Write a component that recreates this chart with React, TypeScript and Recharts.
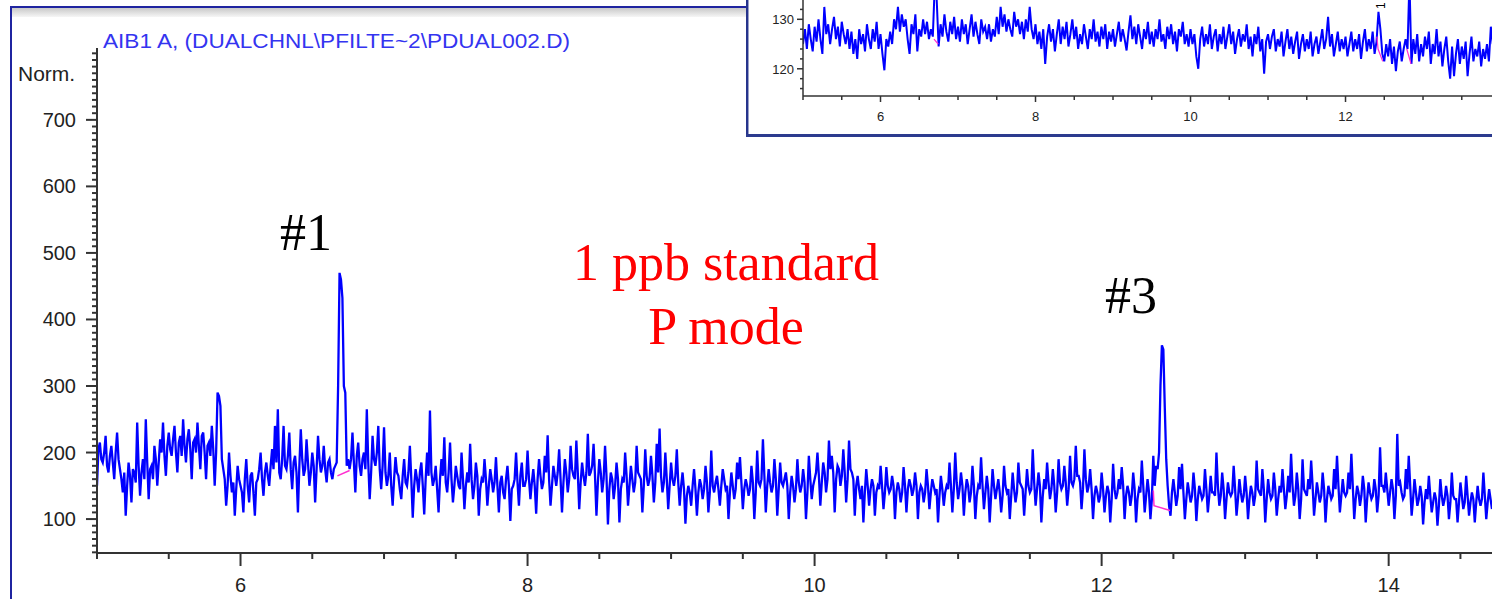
import React from 'react';
import { LineChart, Line, XAxis, YAxis } from 'recharts';

// main trace (Norm.), one array per minute, sampled every 0.01 min
const main05 = [
  150, 205, 215, 190, 185, 200, 225, 180, 170, 195, 210, 185, 160, 200, 230, 190, 175, 160, 140, 170,
  105, 150, 185, 165, 125, 175, 170, 155, 245, 180, 135, 170, 190, 160, 250, 185, 130, 175, 180, 160,
  210, 190, 150, 185, 220, 200, 245, 195, 165, 210, 230, 205, 195, 220, 240, 200, 170, 215, 225, 195,
  250, 210, 185, 220, 235, 205, 160, 215, 220, 200, 245, 210, 175, 225, 230, 200, 160, 210, 215, 195,
  240, 205, 150, 200, 290, 285, 270, 190, 175, 160, 120, 150, 200, 165, 140, 155, 105, 145, 180, 160,
];
const main06 = [
  150, 140, 110, 160, 190, 150, 125, 165, 170, 140, 105, 155, 160, 175, 200, 160, 135, 170, 185, 165,
  150, 180, 205, 175, 240, 185, 265, 170, 160, 190, 240, 180, 175, 195, 230, 175, 145, 185, 195, 170,
  110, 180, 235, 190, 165, 175, 220, 185, 150, 170, 200, 180, 125, 175, 225, 190, 170, 180, 210, 175,
  155, 185, 190, 170, 160, 175, 180, 185, 300, 470, 460, 432, 300, 290, 180, 190, 175, 190, 230, 185,
  140, 195, 215, 180, 165, 190, 200, 175, 265, 185, 130, 170, 225, 190, 180, 200, 240, 175, 145, 180,
];
const main07 = [
  238, 170, 150, 165, 200, 150, 120, 160, 193, 170, 165, 145, 130, 165, 190, 155, 150, 170, 210, 160,
  102, 150, 175, 160, 140, 170, 185, 150, 107, 160, 200, 165, 263, 170, 150, 160, 180, 145, 110, 160,
  190, 165, 223, 155, 140, 170, 215, 160, 125, 150, 180, 165, 150, 145, 200, 160, 115, 150, 170, 155,
  213, 160, 130, 150, 185, 165, 105, 145, 160, 155, 190, 160, 120, 150, 175, 160, 140, 155, 193, 150,
  110, 155, 165, 140, 130, 160, 180, 150, 97, 145, 150, 160, 200, 155, 120, 165, 185, 150, 150, 160,
];
const main08 = [
  203, 160, 130, 155, 175, 150, 108, 160, 190, 165, 145, 155, 195, 170, 226, 160, 120, 150, 180, 165,
  150, 170, 205, 160, 110, 155, 190, 170, 140, 160, 210, 175, 165, 160, 218, 170, 115, 155, 185, 165,
  150, 170, 228, 165, 170, 180, 213, 165, 105, 155, 190, 170, 140, 160, 210, 165, 92, 145, 170, 160,
  130, 150, 185, 160, 95, 145, 160, 155, 200, 165, 120, 150, 180, 160, 140, 155, 210, 170, 165, 160,
  110, 150, 205, 165, 150, 160, 195, 165, 125, 155, 213, 170, 236, 165, 140, 155, 200, 160, 115, 150,
];
const main09 = [
  185, 160, 150, 165, 205, 155, 120, 150, 170, 145, 93, 135, 150, 140, 120, 150, 175, 145, 105, 140,
  160, 150, 130, 145, 180, 155, 110, 140, 203, 150, 140, 155, 165, 145, 120, 150, 175, 160, 145, 150,
  100, 140, 170, 150, 130, 145, 185, 160, 193, 155, 115, 145, 160, 150, 135, 145, 180, 155, 100, 140,
  203, 155, 150, 160, 220, 165, 110, 150, 175, 155, 140, 150, 190, 160, 105, 145, 185, 155, 150, 160,
  170, 150, 100, 140, 165, 150, 125, 145, 190, 155, 140, 150, 175, 155, 100, 140, 195, 160, 130, 150,
];
const main10 = [
  160, 170, 200, 165, 120, 155, 185, 170, 140, 160, 218, 175, 195, 170, 110, 160, 180, 175, 150, 165,
  205, 170, 125, 160, 218, 175, 170, 160, 105, 150, 165, 145, 130, 150, 95, 140, 175, 150, 120, 145,
  160, 150, 105, 140, 150, 145, 180, 150, 115, 140, 178, 150, 140, 145, 165, 150, 100, 140, 155, 145,
  125, 140, 178, 150, 110, 145, 160, 150, 135, 145, 170, 150, 100, 140, 150, 145, 125, 140, 175, 150,
  115, 140, 160, 150, 140, 145, 95, 135, 165, 145, 120, 140, 150, 145, 185, 150, 110, 145, 200, 155,
];
const main11 = [
  130, 145, 170, 150, 105, 140, 160, 150, 125, 140, 180, 150, 100, 135, 150, 145, 193, 150, 115, 140,
  165, 145, 95, 135, 175, 150, 130, 145, 160, 140, 110, 135, 180, 150, 140, 145, 100, 135, 170, 145,
  125, 140, 185, 155, 150, 145, 105, 140, 175, 150, 140, 145, 205, 155, 120, 145, 170, 150, 95, 135,
  160, 145, 185, 155, 130, 145, 175, 150, 110, 140, 190, 155, 145, 150, 180, 155, 120, 145, 195, 155,
  150, 160, 210, 165, 165, 155, 115, 145, 205, 160, 140, 150, 175, 145, 100, 135, 150, 140, 125, 135,
];
const main12 = [
  170, 145, 110, 135, 150, 140, 95, 130, 183, 145, 130, 140, 160, 145, 178, 150, 100, 135, 150, 140,
  120, 135, 170, 145, 95, 130, 145, 140, 188, 150, 110, 135, 160, 140, 100, 130, 195, 150, 180, 175,
  200, 301, 361, 355, 268, 190, 150, 120, 105, 140, 160, 140, 120, 135, 178, 145, 183, 140, 100, 130,
  155, 140, 125, 135, 170, 145, 97, 130, 150, 140, 130, 135, 175, 145, 110, 135, 165, 140, 140, 135,
  200, 150, 120, 135, 170, 145, 100, 130, 155, 140, 135, 140, 180, 145, 105, 130, 160, 140, 125, 135,
];
const main13 = [
  165, 140, 100, 130, 150, 140, 120, 135, 188, 145, 140, 135, 175, 145, 95, 130, 160, 140, 130, 135,
  170, 145, 105, 130, 150, 140, 175, 145, 115, 135, 165, 140, 198, 150, 120, 135, 170, 145, 100, 130,
  190, 145, 140, 135, 160, 145, 188, 150, 105, 130, 155, 140, 125, 135, 170, 145, 95, 130, 150, 140,
  130, 135, 175, 145, 195, 150, 110, 135, 160, 140, 135, 140, 170, 145, 198, 150, 100, 130, 150, 140,
  120, 135, 165, 145, 95, 130, 155, 140, 130, 135, 160, 145, 110, 135, 208, 150, 150, 140, 170, 145,
];
const main14 = [
  120, 140, 160, 145, 100, 135, 228, 150, 155, 140, 130, 135, 175, 145, 195, 150, 105, 130, 160, 140,
  120, 130, 150, 135, 92, 125, 145, 130, 165, 135, 110, 125, 140, 130, 90, 120, 160, 135, 120, 130,
  150, 135, 100, 125, 170, 135, 130, 130, 95, 125, 155, 135, 115, 125, 165, 135, 105, 125, 140, 130,
  95, 125, 150, 130, 120, 130, 170, 135, 100, 125, 145, 130, 115,
];

// inset trace, one array per minute, sampled every 0.025 min
const inset05 = [
  125, 128, 124, 129, 126, 123.5, 128.5, 125.5, 130, 126,
  123, 132.5, 127, 129, 125, 128, 130.5, 126, 128.5, 124.5,
  129.5, 127, 125, 128, 124, 127.5, 123, 126, 122, 128,
  125, 127, 123.5, 129, 126, 124, 128, 125.5, 129.5, 124,
];
const inset06 = [
  127, 123, 119.7, 126, 124.5, 127.5, 125, 130, 128, 132.5,
  127.5, 131, 128.5, 130, 126, 123, 129, 127, 131, 123.5,
  128, 126.5, 130, 127, 129.5, 126, 128, 126.5, 137, 134,
  124.5, 129, 126.5, 131, 127.5, 125.5, 129.5, 127, 130.5, 126,
];
const inset07 = [
  128.5, 125.5, 130, 127, 129, 125, 128, 131, 126.5, 129.5,
  127, 125, 130, 127.5, 128.5, 126, 129, 125.5, 128, 126.5,
  130.5, 127, 132.5, 128.5, 131, 127.5, 130, 128, 126.5, 131.5,
  128.5, 130, 127, 129.5, 126, 130, 127.5, 132.5, 128, 126,
];
const inset08 = [
  129, 125, 127.5, 124, 128, 121, 126.5, 129, 125.5, 128,
  123.5, 127, 130, 125, 128.5, 126, 129.5, 124.5, 127, 130,
  126, 128.5, 124, 127, 125, 129, 126.5, 124, 128, 126,
  130, 125.5, 127.5, 124.5, 128.5, 126, 129, 124, 127.5, 125.5,
];
const inset09 = [
  128, 124.5, 127, 129.5, 125.5, 128, 126, 123.7, 127.5, 130.8,
  126, 128.5, 125, 129, 126.5, 124, 128, 126, 129.5, 125,
  127.5, 124.5, 128, 126, 130, 125.5, 127, 124, 128.5, 126,
  129, 125, 127.5, 123.5, 128, 126.5, 129.5, 125, 127, 124.5,
];
const inset10 = [
  128, 125, 127, 122.5, 120, 126, 128.5, 124.5, 127, 125,
  129, 124, 126.5, 128, 123.5, 127, 125, 128.5, 124, 126.5,
  129, 125, 127.5, 123, 126, 128, 124.5, 127, 125.5, 129,
  124, 126.5, 122.5, 127, 125, 128.5, 123.5, 126, 119, 125.5,
];
const inset11 = [
  127, 124, 126.5, 128, 123.5, 126, 124.5, 127.5, 122.5, 125.5,
  128, 124, 126.5, 123, 125.5, 127.5, 122, 125, 127, 123.5,
  126, 124, 127.5, 122.5, 125, 126.5, 123, 125.5, 128, 124,
  126, 130.5, 124.5, 127, 122.5, 125, 127.5, 123.5, 126, 124,
];
const inset12 = [
  126.5, 122.5, 125, 127.5, 123.5, 126, 124, 127, 122, 125.5,
  128, 123.5, 126, 124, 127.5, 123, 125.5, 131.5, 128, 123,
  121.5, 125, 122.5, 126, 121, 124.5, 119.5, 123.5, 125.5, 121.5,
  124, 126, 124, 138, 121, 126, 123, 127, 121.5, 125,
];
const inset13 = [
  122.5, 126.5, 124, 127.5, 121, 125, 123, 128, 122.5, 125.5,
  120.5, 124, 126.5, 121.5, 118, 124.5, 118.5, 123, 126, 121,
  124.5, 122, 125.5, 118.5, 123, 126.5, 121.5, 124, 122.5, 125.5,
  120.5, 124, 122, 125, 121.5, 128.5, 125,
];

// integration baselines (pink)
const mainBase1 = [{ t: 6.675, v: 165 }, { t: 6.76, v: 173 }];
const mainBase3 = [{ t: 12.36, v: 143 }, { t: 12.365, v: 120 }, { t: 12.477, v: 113 }];
const insetBase1 = [{ t: 6.69, v: 126 }, { t: 6.745, v: 125 }];
const insetBase2 = [{ t: 12.405, v: 126.5 }, { t: 12.42, v: 124 }, { t: 12.48, v: 121.5 }];
const insetBase3 = [{ t: 12.79, v: 124 }, { t: 12.845, v: 121 }];

const mainXLabels = [6, 8, 10, 12, 14];
const mainYLabels = [100, 200, 300, 400, 500, 600, 700];
const insetXLabels = [6, 8, 10, 12];
const insetYLabels = [120, 130];

const START = 5;
const toRows = (vals: number[], dt: number) =>
  vals.map((v, i) => ({ t: +(START + i * dt).toFixed(3), v }));

const mainData = toRows(
  [main05, main06, main07, main08, main09, main10, main11, main12, main13, main14].flat(),
  0.01
);
const insetData = toRows(
  [inset05, inset06, inset07, inset08, inset09, inset10, inset11, inset12, inset13].flat(),
  0.025
);

const mainXTicks = Array.from({ length: 20 }, (_, i) => 5 + i * 0.5);
const mainYTicks = Array.from({ length: 76 }, (_, i) => 50 + i * 10);
const insetXTicks = Array.from({ length: 18 }, (_, i) => 5 + i * 0.5);
const insetYTicks = Array.from({ length: 9 }, (_, i) => 116 + i * 2);

const SANS = "'Liberation Sans', Arial, sans-serif";
const SERIF = "'Liberation Serif', 'Times New Roman', serif";
const AXIS = '#333';
const TRACE = '#0000ff';
const PINK = '#ff2fd0';

function MainXTick({ x, y, payload }: any) {
  const major = mainXLabels.includes(payload.value);
  return (
    <g>
      <line x1={x} x2={x} y1={y} y2={y + (major ? 13 : 6)} stroke={AXIS} strokeWidth={2} />
      {major && (
        <text x={x} y={y + 39} textAnchor="middle" fontSize={20} fill="#222" fontFamily={SANS}>
          {payload.value}
        </text>
      )}
    </g>
  );
}

function MainYTick({ x, y, payload }: any) {
  const major = mainYLabels.includes(payload.value);
  return (
    <g>
      <line x1={x - (major ? 11 : 5)} x2={x} y1={y} y2={y} stroke={AXIS} strokeWidth={2} />
      {major && (
        <text x={x - 21} y={y + 7} textAnchor="end" fontSize={20} fill="#222" fontFamily={SANS}>
          {payload.value}
        </text>
      )}
    </g>
  );
}

function InsetXTick({ x, y, payload }: any) {
  const major = insetXLabels.includes(payload.value);
  return (
    <g>
      <line x1={x} x2={x} y1={y} y2={y + (major ? 6 : 4)} stroke={AXIS} strokeWidth={1.5} />
      {major && (
        <text x={x} y={y + 25} textAnchor="middle" fontSize={13} fill="#222" fontFamily={SANS}>
          {payload.value}
        </text>
      )}
    </g>
  );
}

function InsetYTick({ x, y, payload }: any) {
  const major = insetYLabels.includes(payload.value);
  return (
    <g>
      <line x1={x - (major ? 6 : 3)} x2={x} y1={y} y2={y} stroke={AXIS} strokeWidth={1.5} />
      {major && (
        <text x={x - 9} y={y + 5} textAnchor="end" fontSize={13} fill="#222" fontFamily={SANS}>
          {payload.value}
        </text>
      )}
    </g>
  );
}

export default function App() {
  return (
    <div style={{ position: 'fixed', left: 0, top: 0, width: 1492, height: 599, overflow: 'hidden', background: '#fff' }}>
      <div style={{ position: 'absolute', left: 0, top: 0 }}>
        <LineChart width={1492} height={599} data={mainData} margin={{ top: 48, right: 0, bottom: 0, left: 0 }}>
          <XAxis
            dataKey="t"
            type="number"
            domain={[5, 14.72]}
            allowDataOverflow
            ticks={mainXTicks}
            interval={0}
            height={46}
            tickSize={0}
            tickMargin={0}
            tick={<MainXTick />}
            axisLine={{ stroke: AXIS, strokeWidth: 2 }}
          />
          <YAxis
            type="number"
            domain={[49, 808]}
            allowDataOverflow
            ticks={mainYTicks}
            interval={0}
            width={97}
            tickSize={0}
            tickMargin={0}
            tick={<MainYTick />}
            axisLine={{ stroke: AXIS, strokeWidth: 2 }}
          />
          <Line dataKey="v" stroke={TRACE} strokeWidth={2.3} strokeLinejoin="miter" dot={false} isAnimationActive={false} />
          <Line data={mainBase1} dataKey="v" stroke={PINK} strokeWidth={1.5} dot={false} isAnimationActive={false} />
          <Line data={mainBase3} dataKey="v" stroke={PINK} strokeWidth={1.5} dot={false} isAnimationActive={false} />
        </LineChart>
      </div>

      {/* panel frame */}
      <div style={{ position: 'absolute', left: 10, top: 6, width: 2, height: 593, background: '#1f24a0' }} />
      <div style={{ position: 'absolute', left: 10, top: 6, width: 736, height: 2, background: '#1f24a0' }} />
      <div style={{ position: 'absolute', left: 12, top: 8, width: 734, height: 9, background: 'linear-gradient(#c9c9c9, #f6f6f6)' }} />

      <svg width={1492} height={599} style={{ position: 'absolute', left: 0, top: 0, pointerEvents: 'none' }}>
        <text x={103} y={48} fontSize={21} fill="#3434f0" fontFamily={SANS} textLength={467} lengthAdjust="spacingAndGlyphs">
          AIB1 A, (DUALCHNL\PFILTE~2\PDUAL002.D)
        </text>
        <text x={18} y={81} fontSize={21} fill="#222" fontFamily={SANS}>Norm.</text>
        <text x={280} y={250} fontSize={52} fill="#000" fontFamily={SERIF}>#1</text>
        <text x={1105} y={313} fontSize={52} fill="#000" fontFamily={SERIF}>#3</text>
        <text x={726} y={280} fontSize={52} fill="#ff0000" fontFamily={SERIF} textAnchor="middle">1 ppb standard</text>
        <text x={726} y={344} fontSize={52} fill="#ff0000" fontFamily={SERIF} textAnchor="middle">P mode</text>
      </svg>

      {/* inset */}
      <div style={{ position: 'absolute', left: 746, top: 0, width: 746, height: 137, background: '#fff' }}>
        <LineChart width={746} height={137} data={insetData} margin={{ top: 0, right: 0, bottom: 0, left: 0 }}>
          <XAxis
            dataKey="t"
            type="number"
            domain={[5, 13.89]}
            allowDataOverflow
            ticks={insetXTicks}
            interval={0}
            height={41}
            tickSize={0}
            tickMargin={0}
            tick={<InsetXTick />}
            axisLine={{ stroke: AXIS, strokeWidth: 1.5 }}
          />
          <YAxis
            type="number"
            domain={[114.5, 133.9]}
            allowDataOverflow
            ticks={insetYTicks}
            interval={0}
            width={57}
            tickSize={0}
            tickMargin={0}
            tick={<InsetYTick />}
            axisLine={{ stroke: AXIS, strokeWidth: 1.5 }}
          />
          <Line dataKey="v" stroke={TRACE} strokeWidth={2} dot={false} isAnimationActive={false} />
          <Line data={insetBase1} dataKey="v" stroke={PINK} strokeWidth={1.2} dot={false} isAnimationActive={false} />
          <Line data={insetBase2} dataKey="v" stroke={PINK} strokeWidth={1.2} dot={false} isAnimationActive={false} />
          <Line data={insetBase3} dataKey="v" stroke={PINK} strokeWidth={1.2} dot={false} isAnimationActive={false} />
        </LineChart>
        <svg width={746} height={137} style={{ position: 'absolute', left: 0, top: 0, pointerEvents: 'none' }}>
          <text x={0} y={0} fontSize={12} fill="#000" fontFamily={SANS} transform="translate(639 9) rotate(-90)">1</text>
        </svg>
        <div style={{ position: 'absolute', left: 0, top: 0, width: 2, height: 137, background: '#26348c' }} />
        <div style={{ position: 'absolute', left: 2, top: 0, width: 1, height: 134, background: '#9aa0c8' }} />
        <div style={{ position: 'absolute', left: 0, top: 134, width: 746, height: 3, background: '#2c3b8e' }} />
      </div>
    </div>
  );
}
